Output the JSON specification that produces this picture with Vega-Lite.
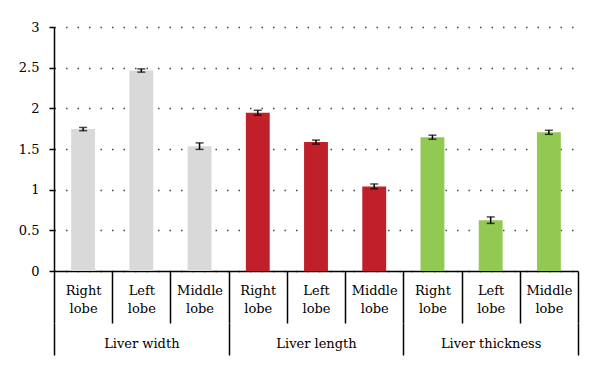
{
  "$schema": "https://vega.github.io/schema/vega-lite/v6.json",
  "width": 524,
  "height": 244,
  "autosize": "none",
  "padding": {"left": 54, "top": 27, "right": 22, "bottom": 105},
  "background": "white",
  "config": {
    "view": {"stroke": null},
    "font": "DejaVu Serif",
    "axis": {"labelFont": "DejaVu Serif", "labelColor": "black", "labelFontSize": 13}
  },
  "datasets": {
    "bars": [
      {"cat": "W|Right lobe", "group": "Liver width", "value": 1.745, "lo": 1.725, "hi": 1.765},
      {"cat": "W|Left lobe", "group": "Liver width", "value": 2.465, "lo": 2.445, "hi": 2.485},
      {"cat": "W|Middle lobe", "group": "Liver width", "value": 1.535, "lo": 1.495, "hi": 1.575},
      {"cat": "L|Right lobe", "group": "Liver length", "value": 1.946, "lo": 1.916, "hi": 1.976},
      {"cat": "L|Left lobe", "group": "Liver length", "value": 1.585, "lo": 1.56, "hi": 1.61},
      {"cat": "L|Middle lobe", "group": "Liver length", "value": 1.04, "lo": 1.01, "hi": 1.07},
      {"cat": "T|Right lobe", "group": "Liver thickness", "value": 1.645, "lo": 1.62, "hi": 1.67},
      {"cat": "T|Left lobe", "group": "Liver thickness", "value": 0.625, "lo": 0.585, "hi": 0.665},
      {"cat": "T|Middle lobe", "group": "Liver thickness", "value": 1.705, "lo": 1.68, "hi": 1.73}
    ],
    "groups": [
      {"group": "Liver width"},
      {"group": "Liver length"},
      {"group": "Liver thickness"}
    ]
  },
  "layer": [
    {
      "data": {"name": "bars"},
      "encoding": {
        "x": {
          "field": "cat",
          "type": "nominal",
          "sort": null,
          "scale": {"paddingInner": 0, "paddingOuter": 0},
          "axis": {
            "title": null,
            "orient": "bottom",
            "domain": true,
            "domainColor": "black",
            "domainWidth": 1.5,
            "ticks": true,
            "tickBand": "extent",
            "tickSize": 52,
            "tickColor": "black",
            "tickWidth": 1.5,
            "labelPadding": -39,
            "labelFont": "DejaVu Serif",
            "labelFontSize": 13,
            "labelLineHeight": 18,
            "labelAngle": 0,
            "labelBaseline": "top",
            "labelColor": "black",
            "labelExpr": "datum.label ? split(split(datum.label, '|')[1], ' ') : ''",
            "grid": false
          }
        }
      },
      "layer": [
        {
          "mark": {"type": "bar", "width": {"band": 0.41}},
          "encoding": {
            "y": {
              "field": "value",
              "type": "quantitative",
              "scale": {"domain": [0, 3], "nice": false},
              "axis": {
                "title": null,
                "values": [0, 0.5, 1, 1.5, 2, 2.5, 3],
                "format": "~g",
                "grid": true,
                "gridDash": [1.5, 10],
                "gridColor": "#444444",
                "gridWidth": 1.5,
                "domainColor": "black",
                "domainWidth": 1.5,
                "tickColor": "black",
                "tickWidth": 1.5,
                "tickSize": 5,
                "labelPadding": 10,
                "labelFont": "DejaVu Serif",
                "labelFontSize": 13,
                "labelColor": "black"
              }
            },
            "color": {
              "field": "group",
              "type": "nominal",
              "scale": {
                "domain": ["Liver width", "Liver length", "Liver thickness"],
                "range": ["#d9d9d9", "#c1202a", "#92c953"]
              },
              "legend": null
            }
          }
        },
        {
          "mark": {"type": "rule", "color": "black", "strokeWidth": 1.5},
          "encoding": {
            "y": {"field": "lo", "type": "quantitative"},
            "y2": {"field": "hi"}
          }
        },
        {
          "mark": {"type": "tick", "color": "black", "size": 8, "thickness": 1.5},
          "encoding": {"y": {"field": "lo", "type": "quantitative"}}
        },
        {
          "mark": {"type": "tick", "color": "black", "size": 8, "thickness": 1.5},
          "encoding": {"y": {"field": "hi", "type": "quantitative"}}
        }
      ]
    },
    {
      "data": {"name": "groups"},
      "mark": {"type": "bar", "opacity": 0},
      "encoding": {
        "x": {
          "field": "group",
          "type": "nominal",
          "sort": null,
          "scale": {"paddingInner": 0, "paddingOuter": 0},
          "axis": {
            "orient": "bottom",
            "offset": 52,
            "title": null,
            "domain": false,
            "tickBand": "extent",
            "tickSize": 32,
            "tickColor": "black",
            "tickWidth": 1.5,
            "labelPadding": -18,
            "labelFont": "DejaVu Serif",
            "labelFontSize": 13,
            "labelAngle": 0,
            "labelBaseline": "top",
            "labelColor": "black",
            "grid": false
          }
        }
      }
    }
  ],
  "resolve": {"scale": {"x": "independent"}, "axis": {"x": "independent"}}
}
